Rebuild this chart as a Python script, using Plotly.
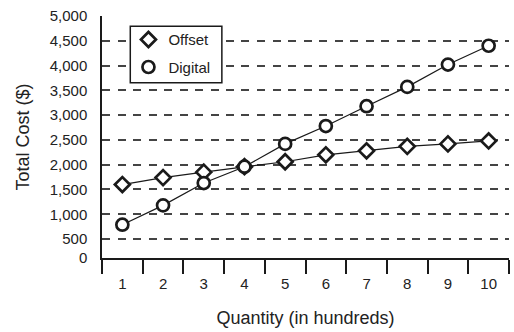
import plotly.graph_objects as go

# Quantity in hundreds of units
quantity = ["1", "2", "3", "4", "5", "6", "7", "8", "9", "10"]

# Total cost in dollars for each printing method
offset_cost = [1600, 1740, 1850, 1960, 2060, 2200, 2280, 2370, 2420, 2480]
digital_cost = [790, 1180, 1630, 1960, 2420, 2780, 3180, 3570, 4020, 4400]

# Y-axis ticks; the baseline carries the "0" label
y_floor = 118
y_tick_vals = [y_floor, 500, 1000, 1500, 2000, 2500, 3000, 3500, 4000, 4500, 5000]
y_tick_text = ["0", "500", "1,000", "1,500", "2,000", "2,500", "3,000",
               "3,500", "4,000", "4,500", "5,000"]

FONT = "Liberation Sans, Arial, sans-serif"
FSIZE = 15
INK = "#1a1a1a"
TEXT = "#222222"

fig = go.Figure()

# connecting lines (kept out of the legend)
for vals in (offset_cost, digital_cost):
    fig.add_trace(go.Scatter(
        x=quantity, y=vals, mode="lines", showlegend=False, hoverinfo="skip",
        line=dict(color=INK, width=1.2),
    ))

# markers drawn on top of the lines
fig.add_trace(go.Scatter(
    x=quantity, y=offset_cost, mode="markers", name="Offset",
    legendgroup="offset",
    marker=dict(symbol="diamond", size=11.5, color="white",
                line=dict(color=INK, width=2.7)),
))
fig.add_trace(go.Scatter(
    x=quantity, y=digital_cost, mode="markers", name="Digital",
    legendgroup="digital",
    marker=dict(symbol="circle", size=12, color="white",
                line=dict(color=INK, width=2.7)),
))

# framed white panel behind the legend entries
fig.add_shape(
    type="rect", xref="paper", yref="paper", layer="above",
    x0=0.0695, x1=0.2945, y0=0.7245, y1=0.9575,
    fillcolor="white", line=dict(color=INK, width=1.5),
)

fig.update_layout(
    width=514, height=332,
    margin=dict(l=102, r=5, t=16, b=74),
    paper_bgcolor="white", plot_bgcolor="white",
    font=dict(family=FONT, size=FSIZE, color=TEXT),
    showlegend=True,
    legend=dict(
        x=0.065, y=0.970, xanchor="left", yanchor="top",
        bgcolor="rgba(0,0,0,0)", borderwidth=0,
        traceorder="grouped", tracegroupgap=5,
        font=dict(family=FONT, size=FSIZE, color=TEXT),
    ),
    xaxis=dict(
        type="category", tickson="boundaries",
        range=[-0.5, 9.5],
        showline=True, linecolor=INK, linewidth=1.5,
        ticks="outside", ticklen=14, tickwidth=1.5, tickcolor=INK,
        ticklabelstandoff=11,
        showgrid=False, zeroline=False,
        title=dict(text="Quantity (in hundreds)", standoff=21),
    ),
    yaxis=dict(
        range=[y_floor, 5000],
        tickvals=y_tick_vals, ticktext=y_tick_text,
        showline=True, linecolor=INK, linewidth=1.5,
        ticks="", ticklabelstandoff=10,
        showgrid=True, gridcolor="#444444", gridwidth=1.6,
        griddash="8px,7.5px",
        zeroline=False,
        title=dict(text="Total Cost ($)", standoff=15),
    ),
)

fig.write_html("out.html")
